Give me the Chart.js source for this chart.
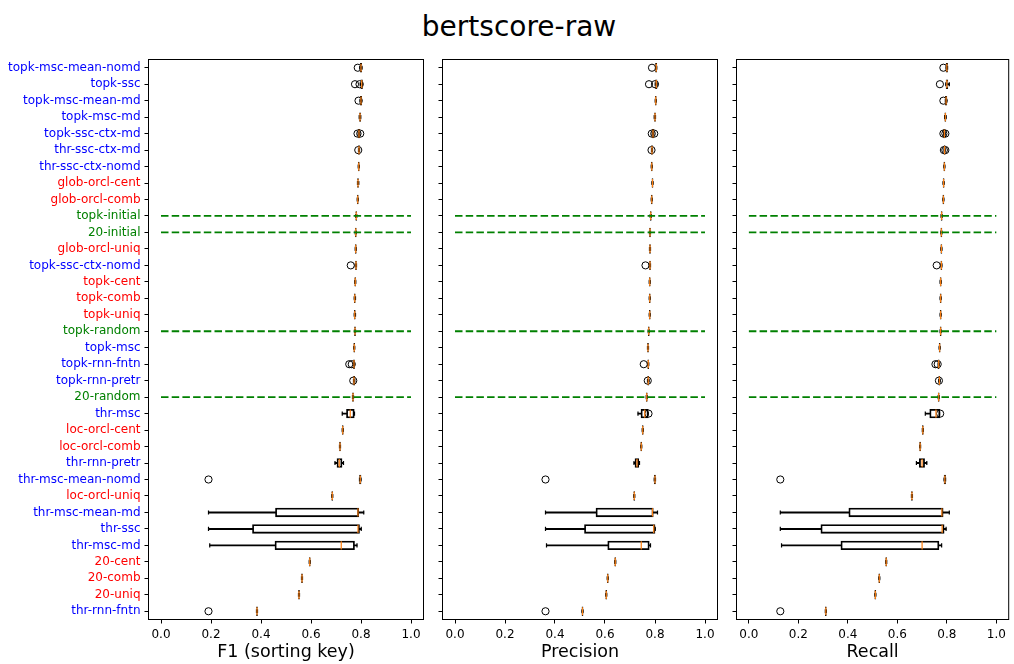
<!DOCTYPE html>
<html>
<head>
<meta charset="utf-8">
<script src="https://cdn.jsdelivr.net/npm/chart.js@4.4.1/dist/chart.umd.min.js"></script>
<style>
  html, body { margin: 0; background: #fff; }
  #page { position: relative; width: 1014px; height: 664px; overflow: hidden; }
  #page canvas { position: absolute; top: 0; }
  #title { position: absolute; left: 0; top: 11px; width: 1038px; text-align: center;
           font: 28px 'DejaVu Sans'; line-height: 32px; color: #000; }
</style>
</head>
<body>
<div id="page">
  <div id="title">bertscore-raw</div>
  <canvas id="f1" width="430" height="664" style="left:0"></canvas>
  <canvas id="precision" width="295" height="664" style="left:430px"></canvas>
  <canvas id="recall" width="289" height="664" style="left:725px"></canvas>
</div>
<script>
// systems, top to bottom (sorted by median F1 of the best runs)
const categories = [
    'topk-msc-mean-nomd', 'topk-ssc', 'topk-msc-mean-md', 'topk-msc-md', 'topk-ssc-ctx-md',
    'thr-ssc-ctx-md', 'thr-ssc-ctx-nomd', 'glob-orcl-cent', 'glob-orcl-comb', 'topk-initial',
    '20-initial', 'glob-orcl-uniq', 'topk-ssc-ctx-nomd', 'topk-cent', 'topk-comb',
    'topk-uniq', 'topk-random', 'topk-msc', 'topk-rnn-fntn', 'topk-rnn-pretr',
    '20-random', 'thr-msc', 'loc-orcl-cent', 'loc-orcl-comb', 'thr-rnn-pretr',
    'thr-msc-mean-nomd', 'loc-orcl-uniq', 'thr-msc-mean-md', 'thr-ssc', 'thr-msc-md',
    '20-cent', '20-comb', '20-uniq', 'thr-rnn-fntn',
];

// m = model, o = oracle, b = baseline
const labelGroups = [
    'm', 'm', 'm', 'm', 'm', 'm', 'm', 'o', 'o', 'b',
    'b', 'o', 'm', 'o', 'o', 'o', 'b', 'm', 'm', 'm',
    'b', 'm', 'o', 'o', 'm', 'm', 'o', 'm', 'm', 'm',
    'o', 'o', 'o', 'm',
];

const baselineRows = ['topk-initial', '20-initial', 'topk-random', '20-random'];
const baselineSpan = [0, 1];

// per row: [whisker low, q1, median, q3, whisker high]
const f1Stats = [
    [0.795, 0.798, 0.800, 0.802, 0.804], [0.797, 0.800, 0.803, 0.805, 0.807],
    [0.796, 0.798, 0.800, 0.802, 0.803], [0.793, 0.795, 0.796, 0.798, 0.799],
    [0.789, 0.790, 0.792, 0.794, 0.795], [0.790, 0.791, 0.792, 0.793, 0.794],
    [0.789, 0.790, 0.791, 0.792, 0.793], [0.786, 0.787, 0.788, 0.789, 0.791],
    [0.785, 0.786, 0.787, 0.788, 0.789], [0.779, 0.780, 0.781, 0.782, 0.783],
    [0.777, 0.778, 0.779, 0.780, 0.781], [0.777, 0.778, 0.779, 0.780, 0.781],
    [0.777, 0.779, 0.780, 0.781, 0.782], [0.775, 0.776, 0.777, 0.778, 0.779],
    [0.773, 0.774, 0.775, 0.776, 0.778], [0.773, 0.774, 0.775, 0.776, 0.778],
    [0.774, 0.775, 0.776, 0.777, 0.778], [0.771, 0.772, 0.773, 0.774, 0.775],
    [0.770, 0.771, 0.772, 0.773, 0.774], [0.770, 0.771, 0.772, 0.774, 0.775],
    [0.766, 0.767, 0.768, 0.769, 0.770], [0.725, 0.743, 0.757, 0.772, 0.774],
    [0.725, 0.726, 0.727, 0.728, 0.729], [0.714, 0.715, 0.716, 0.717, 0.718],
    [0.696, 0.705, 0.713, 0.723, 0.730], [0.794, 0.795, 0.797, 0.799, 0.800],
    [0.683, 0.684, 0.685, 0.686, 0.687], [0.190, 0.459, 0.788, 0.790, 0.811],
    [0.190, 0.367, 0.788, 0.793, 0.801], [0.195, 0.457, 0.721, 0.773, 0.784],
    [0.593, 0.594, 0.595, 0.596, 0.597], [0.562, 0.563, 0.564, 0.565, 0.566],
    [0.550, 0.551, 0.552, 0.553, 0.554], [0.382, 0.383, 0.384, 0.385, 0.386],
];
const f1Fliers = [
    [0.787], [0.776, 0.794], [0.790], [], [0.786, 0.797], [0.789], [], [], [], [],
    [], [], [0.759], [], [], [], [], [], [0.753, 0.763], [0.769],
    [], [], [], [], [], [0.190], [], [], [], [],
    [], [], [], [0.190],
];

const precisionStats = [
    [0.802, 0.803, 0.805, 0.806, 0.807], [0.801, 0.803, 0.805, 0.807, 0.808],
    [0.801, 0.802, 0.803, 0.804, 0.805], [0.797, 0.799, 0.800, 0.801, 0.802],
    [0.789, 0.790, 0.792, 0.794, 0.795], [0.786, 0.787, 0.788, 0.789, 0.790],
    [0.785, 0.786, 0.787, 0.788, 0.789], [0.788, 0.789, 0.790, 0.791, 0.792],
    [0.785, 0.786, 0.787, 0.788, 0.789], [0.781, 0.782, 0.783, 0.784, 0.785],
    [0.778, 0.779, 0.780, 0.781, 0.782], [0.778, 0.779, 0.780, 0.781, 0.782],
    [0.777, 0.779, 0.780, 0.781, 0.782], [0.777, 0.778, 0.779, 0.780, 0.781],
    [0.777, 0.778, 0.779, 0.780, 0.781], [0.777, 0.778, 0.779, 0.780, 0.781],
    [0.773, 0.774, 0.775, 0.776, 0.777], [0.770, 0.771, 0.772, 0.773, 0.774],
    [0.771, 0.772, 0.773, 0.774, 0.775], [0.770, 0.772, 0.773, 0.774, 0.776],
    [0.765, 0.766, 0.767, 0.768, 0.769], [0.732, 0.745, 0.759, 0.772, 0.773],
    [0.749, 0.750, 0.751, 0.752, 0.753], [0.743, 0.744, 0.745, 0.746, 0.747],
    [0.716, 0.721, 0.728, 0.734, 0.738], [0.797, 0.798, 0.800, 0.801, 0.802],
    [0.715, 0.716, 0.717, 0.718, 0.719], [0.362, 0.565, 0.790, 0.792, 0.810],
    [0.362, 0.519, 0.795, 0.799, 0.801], [0.366, 0.612, 0.745, 0.776, 0.782],
    [0.639, 0.640, 0.641, 0.642, 0.643], [0.609, 0.610, 0.611, 0.612, 0.613],
    [0.603, 0.604, 0.605, 0.606, 0.607], [0.508, 0.509, 0.510, 0.511, 0.512],
];
const precisionFliers = [
    [0.788], [0.776, 0.800], [], [], [0.787, 0.797], [0.786], [], [], [], [],
    [], [], [0.762], [], [], [], [], [], [0.755], [0.771],
    [], [0.774], [], [], [], [0.362], [], [], [], [],
    [], [], [], [0.362],
];

const recallStats = [
    [0.797, 0.798, 0.800, 0.802, 0.803], [0.796, 0.798, 0.800, 0.803, 0.810],
    [0.794, 0.795, 0.797, 0.799, 0.800], [0.791, 0.793, 0.794, 0.795, 0.797],
    [0.787, 0.788, 0.790, 0.792, 0.793], [0.789, 0.790, 0.791, 0.792, 0.793],
    [0.788, 0.789, 0.790, 0.791, 0.792], [0.785, 0.786, 0.787, 0.788, 0.789],
    [0.784, 0.785, 0.786, 0.787, 0.788], [0.777, 0.778, 0.779, 0.780, 0.781],
    [0.776, 0.777, 0.778, 0.779, 0.780], [0.776, 0.777, 0.778, 0.779, 0.780],
    [0.776, 0.777, 0.778, 0.779, 0.780], [0.773, 0.774, 0.775, 0.776, 0.777],
    [0.773, 0.774, 0.775, 0.776, 0.777], [0.773, 0.774, 0.775, 0.776, 0.777],
    [0.773, 0.774, 0.775, 0.776, 0.777], [0.769, 0.770, 0.771, 0.772, 0.773],
    [0.765, 0.766, 0.767, 0.768, 0.769], [0.767, 0.769, 0.770, 0.771, 0.773],
    [0.765, 0.766, 0.767, 0.768, 0.769], [0.713, 0.732, 0.756, 0.771, 0.771],
    [0.701, 0.702, 0.703, 0.704, 0.705], [0.690, 0.691, 0.692, 0.693, 0.694],
    [0.677, 0.690, 0.700, 0.709, 0.719], [0.789, 0.790, 0.792, 0.794, 0.795],
    [0.657, 0.658, 0.659, 0.660, 0.661], [0.127, 0.405, 0.780, 0.784, 0.810],
    [0.127, 0.292, 0.781, 0.788, 0.797], [0.132, 0.373, 0.700, 0.767, 0.779],
    [0.553, 0.554, 0.555, 0.556, 0.557], [0.525, 0.526, 0.527, 0.528, 0.529],
    [0.509, 0.510, 0.511, 0.512, 0.513], [0.309, 0.310, 0.311, 0.312, 0.313],
];
const recallFliers = [
    [0.786], [0.772], [0.786], [], [0.786, 0.794], [0.788, 0.794], [], [], [], [],
    [], [], [0.759], [], [], [], [], [], [0.754, 0.763], [0.768],
    [], [0.773], [], [], [], [0.127], [], [], [], [],
    [], [], [], [0.127],
];

const groupColors = { m: '#0000ff', o: '#ff0000', b: '#008000' };

Chart.defaults.font.family = "'DejaVu Sans'";
Chart.defaults.color = '#000';

// axes frame on all four sides
const frame = {
    id: 'frame',
    afterDatasetsDraw(chart) {
        const { ctx, chartArea: a } = chart;
        ctx.save();
        ctx.strokeStyle = '#000';
        ctx.lineWidth = 1;
        ctx.strokeRect(a.left, a.top, a.right - a.left, a.bottom - a.top);
        ctx.restore();
    },
};

function pointsAt(rows, pick) {
    const out = [];
    rows.forEach((row, i) => pick(row).forEach((x) => out.push({ x, y: categories[i] })));
    return out;
}

function createPanel(id, stats, fliers, label, yWidth, padRight, showLabels) {
    const lineBar = { type: 'bar', grouped: false, backgroundColor: '#000', borderWidth: 0, barThickness: 1.3, order: 4 };
    const datasets = [
        {
            // half the outline sits outside q1..q3, so even a flat box stays visible
            type: 'bar', data: stats.map((s) => [s[1], s[3]]), grouped: false,
            backgroundColor: 'rgba(0,0,0,0)', borderColor: '#000', borderWidth: 0.6, borderSkipped: false,
            inflateAmount: 0.6, barPercentage: 0.5, categoryPercentage: 1, order: 5,
        },
        { ...lineBar, data: stats.map((s) => [s[0], s[1]]) },
        { ...lineBar, data: stats.map((s) => [s[3], s[4]]) },
        {
            type: 'scatter', data: pointsAt(stats, (s) => [s[0], s[4]]), order: 3,
            pointStyle: 'line', pointRotation: 90, pointRadius: 2.05, pointBorderColor: '#000', pointBorderWidth: 1.2,
        },
        {
            type: 'scatter', data: pointsAt(stats, (s) => [s[2]]), order: 1,
            pointStyle: 'line', pointRotation: 90, pointRadius: 4.1, pointBorderColor: '#ff7f0e', pointBorderWidth: 1.2,
        },
        {
            type: 'scatter', data: pointsAt(fliers, (f) => f), order: 2,
            pointStyle: 'circle', pointRadius: 3.6, pointBorderColor: '#000', pointBackgroundColor: 'rgba(0,0,0,0)', pointBorderWidth: 1,
        },
    ];
    baselineRows.forEach((row) => datasets.push({
        type: 'scatter', showLine: true, order: 0,
        data: baselineSpan.map((x) => ({ x, y: row })),
        borderColor: '#008000', borderWidth: 1.8, borderDash: [7.5, 3.2], pointRadius: 0,
    }));

    return new Chart(document.getElementById(id), {
        type: 'bar',
        data: { labels: categories, datasets },
        options: {
            indexAxis: 'y',
            responsive: false,
            devicePixelRatio: 1,
            animation: false,
            events: [],
            layout: { padding: { top: 59.5, right: padRight, bottom: 0, left: 0 } },
            plugins: { legend: { display: false }, tooltip: { enabled: false } },
            scales: {
                x: {
                    type: 'linear', min: -0.05, max: 1.05,
                    border: { display: false },
                    grid: { drawOnChartArea: false, tickLength: 4, tickColor: '#000', tickWidth: 1 },
                    ticks: {
                        stepSize: 0.2, includeBounds: false, padding: 4, maxRotation: 0,
                        font: { size: 12 }, color: '#000',
                        callback: (v) => (Math.abs(v) < 1e-9 ? 0 : v).toFixed(1),
                    },
                    title: { display: true, text: label, font: { size: 17.5 }, color: '#000', padding: { top: 0, bottom: 1.5 } },
                    afterFit: (s) => { s.height = 44.5; },
                },
                y: {
                    type: 'category', offset: true,
                    border: { display: false },
                    grid: { drawOnChartArea: false, offset: false, tickLength: 4, tickColor: '#000', tickWidth: 1 },
                    ticks: {
                        display: showLabels, autoSkip: false, padding: 4, font: { size: 12 },
                        color: (ctx) => groupColors[labelGroups[ctx.index]],
                    },
                    afterFit: (s) => { s.width = yWidth; },
                },
            },
        },
        plugins: [frame],
    });
}

createPanel('f1', f1Stats, f1Fliers, 'F1 (sorting key)', 148.5, 6.5, true);
createPanel('precision', precisionStats, precisionFliers, 'Precision', 12.5, 7.5, false);
createPanel('recall', recallStats, recallFliers, 'Recall', 11.5, 2.5, false);
</script>
</body>
</html>
